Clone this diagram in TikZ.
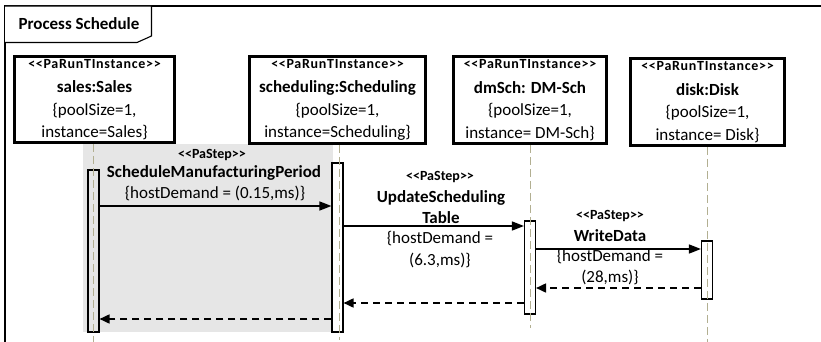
\documentclass[tikz,border=0pt]{standalone}
\usepackage{fontspec}
\newfontfamily\carlito{Carlito}
\usetikzlibrary{arrows.meta}
\definecolor{regiongray}{RGB}{230,230,230}
\definecolor{lifec}{RGB}{178,175,145}
\newcommand{\stereofont}{\fontsize{14}{16}\selectfont\bfseries}
\newcommand{\stereowide}{\fontsize{14}{16}\selectfont\bfseries\addfontfeature{LetterSpace=5}}
\newcommand{\mainfontsz}{\fontsize{17}{22.5}\selectfont}
\begin{document}
\begin{tikzpicture}[x=1pt,y=-1pt,
  every node/.style={font=\carlito},
  inst/.style={draw, line width=2.6pt, inner sep=0pt, align=center, font=\carlito\mainfontsz, fill=white},
  actbar/.style={draw, line width=1.1pt, fill=white, inner sep=0pt, minimum width=11pt},
  lifel/.style={draw=lifec, line width=1pt, dash pattern=on 8pt off 4pt},
  msg/.style={line width=1.4pt, -{Triangle[length=12pt,width=9pt]}},
  ret/.style={line width=1.7pt, dash pattern=on 7pt off 5pt, -{Triangle[length=10pt,width=9pt]}},
  st/.style={font=\carlito\stereofont, inner sep=0pt},
  nm/.style={font=\carlito\mainfontsz\bfseries, inner sep=0pt},
  pr/.style={font=\carlito\mainfontsz, inner sep=0pt},
  tabtext/.style={font=\carlito\fontsize{17}{20}\selectfont\bfseries, inner sep=0pt}
]
\useasboundingbox (0,0) rectangle (821,342);
% frame
\draw[line width=1.6pt] (5,342) -- (5,6) -- (821,6);
\draw[line width=1.1pt, fill=white] (5,6) -- (151.5,6) -- (151.5,36) -- (137,42.5) -- (5,42.5);
\node[tabtext] (tabtxt) at (79,24) {Process Schedule};
% gray region
\fill[regiongray] (83,144) rectangle (333,332);
% instance boxes
\node[inst, minimum width=160pt, minimum height=86pt] (sales) at (94.5,99.5)
  {{\stereowide <{}<PaRunTInstance>{}>}\\[2pt]{\bfseries sales:Sales}\\\{poolSize=1,\\instance=Sales\}};
\node[inst, minimum width=176pt, minimum height=87pt] (sched) at (337.5,100)
  {{\stereowide <{}<PaRunTInstance>{}>}\\[2pt]{\bfseries scheduling:Scheduling}\\\{poolSize=1,\\instance=Scheduling\}};
\node[inst, minimum width=153pt, minimum height=87pt] (dmsch) at (530,100)
  {{\stereowide <{}<PaRunTInstance>{}>}\\[2pt]{\bfseries dmSch: DM-Sch}\\\{poolSize=1,\\instance= DM-Sch\}};
\node[inst, minimum width=154pt, minimum height=87pt] (disk) at (707.5,102)
  {{\stereowide <{}<PaRunTInstance>{}>}\\[2pt]{\bfseries disk:Disk}\\\{poolSize=1,\\instance= Disk\}};
% activation bars
\node[actbar, minimum height=162pt, fill=regiongray] (b1) at (93.5,251) {};
\node[actbar, minimum height=169pt] (b2) at (337.5,247.5) {};
\node[actbar, minimum height=93pt] (b3) at (530,267.5) {};
\node[actbar, minimum height=58pt] (b4) at (707,270) {};
% lifelines
\coordinate (e1) at (93,342);
\coordinate (e2) at (339,340);
\coordinate (e3) at (530,328);
\coordinate (e4) at (707,342);
\draw[lifel] (sales.south -| e1) -- (e1);
\draw[lifel] (sched.south -| e2) -- (e2);
\draw[lifel] (dmsch.south -| e3) -- (e3);
\draw[lifel] (disk.south -| e4) -- (e4);
% messages
\draw[msg] (b1.east |- 0,206) -- (b2.west |- 0,206);
\draw[msg] (b2.east |- 0,226) -- (b3.west |- 0,226);
\draw[msg] (b3.east |- 0,249) -- (b4.west |- 0,249);
\draw[ret] (b4.west |- 0,288) -- (b3.east |- 0,288);
\draw[ret] (b3.west |- 0,303) -- (b2.east |- 0,303);
\draw[ret] (b2.west |- 0,319) -- (b1.east |- 0,319);
% labels
\node[st] (l1a) at (212,155) {<{}<PaStep>{}>};
\node[nm] (l1b) at (214,173) {ScheduleManufacturingPeriod};
\node[pr] (l1c) at (215,193) {\{hostDemand = (0.15,ms)\}};
\node[st] (l2a) at (440,177) {<{}<PaStep>{}>};
\node[nm] (l2b) at (441,198) {UpdateScheduling};
\node[nm] (l2c) at (441,218) {Table};
\node[pr] (l2d) at (440,239) {\{hostDemand =};
\node[pr] (l2e) at (440,260) {(6.3,ms)\}};
\node[st] (l3a) at (610,216) {<{}<PaStep>{}>};
\node[nm] (l3b) at (610,236) {WriteData};
\node[pr] (l3c) at (610,257) {\{hostDemand =};
\node[pr] (l3d) at (610,277) {(28,ms)\}};
\end{tikzpicture}
\end{document}
